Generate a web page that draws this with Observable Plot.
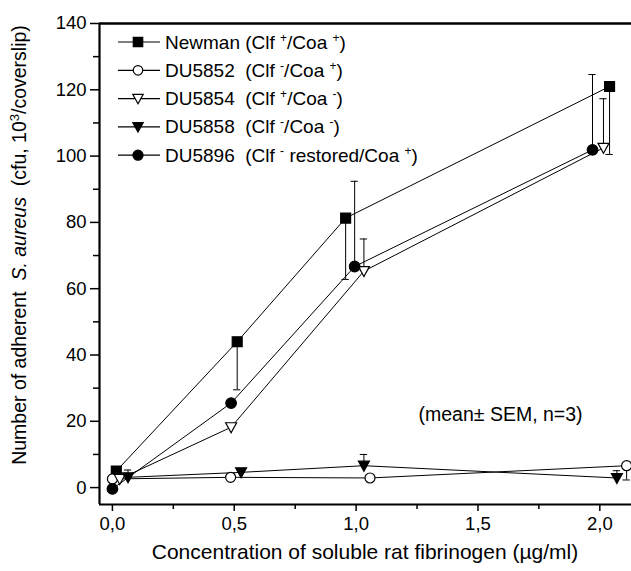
<!DOCTYPE html>
<html>
<head>
<meta charset="utf-8">
<script src="https://cdn.jsdelivr.net/npm/d3@7"></script>
<script src="https://cdn.jsdelivr.net/npm/@observablehq/plot@0.6"></script>
<style>
  html, body { margin: 0; padding: 0; background: #fff; }
  svg text { font-family: "Liberation Sans", Arial, sans-serif; }
</style>
</head>
<body>
<div id="chart"></div>
<script>
// ---- Data ----
const seriesNames = ["Newman", "DU5852", "DU5854", "DU5858", "DU5896"];

const newmanX = [0.016, 0.512, 0.957, 2.04];
const newmanY = [5.0, 44.0, 81.3, 121.0];
const newmanErr = [null, 29.5, 62.8, 100.5];

const du5852X = [0.0, 0.485, 1.057, 2.11];
const du5852Y = [2.6, 3.1, 2.9, 6.6];
const du5852Err = [null, null, null, 2.3];

const du5854X = [0.03, 0.487, 1.032, 2.015];
const du5854Y = [2.6, 18.2, 65.3, 102.5];
const du5854Err = [null, null, 75.0, 117.3];

const du5858X = [0.064, 0.528, 1.032, 2.07];
const du5858Y = [3.1, 4.6, 6.6, 2.9];
const du5858Err = [5.3, null, 10.0, 5.1];

const du5896X = [0.0, 0.487, 0.994, 1.97];
const du5896Y = [-0.4, 25.5, 66.7, 101.9];
const du5896Err = [null, null, 92.4, 124.6];

const xMajorTicks = [0, 0.5, 1.0, 1.5, 2.0];
const xMinorTicks = [0.25, 0.75, 1.25, 1.75];
const yMajorTicks = [0, 20, 40, 60, 80, 100, 120, 140];
const yMinorTicks = [10, 30, 50, 70, 90, 110, 130];

const xDomain = [-0.053, 2.13];
const yDomain = [-5.1, 140];

// ---- Build tables ----
const allX = [newmanX, du5852X, du5854X, du5858X, du5896X];
const allY = [newmanY, du5852Y, du5854Y, du5858Y, du5896Y];
const allErr = [newmanErr, du5852Err, du5854Err, du5858Err, du5896Err];
const rows = [];
seriesNames.forEach((s, i) => {
  allX[i].forEach((x, j) => rows.push({series: s, x, y: allY[i][j], err: allErr[i][j]}));
});
const errRows = rows.filter(d => d.err != null);
const capHalf = 0.015;

const triDown = {
  draw(ctx, size) {
    const r = Math.sqrt(size / Math.PI);
    ctx.moveTo(-r * 1.1, -r * 0.9);
    ctx.lineTo(r * 1.1, -r * 0.9);
    ctx.lineTo(0, r * 1.1);
    ctx.closePath();
  }
};

const styles = {
  Newman: {symbol: "square", fill: "black", r: 5.6},
  DU5852: {symbol: "circle", fill: "white", r: 5},
  DU5854: {symbol: triDown, fill: "white", r: 5},
  DU5858: {symbol: triDown, fill: "black", r: 5},
  DU5896: {symbol: "circle", fill: "black", r: 5.3}
};

const font = '"Liberation Sans", Arial, sans-serif';

const chart = Plot.plot({
  width: 631,
  height: 571,
  marginLeft: 99,
  marginRight: 0,
  marginTop: 23,
  marginBottom: 67,
  style: {fontFamily: font, fontSize: "18px", background: "white", color: "black"},
  x: {domain: xDomain, axis: null},
  y: {domain: yDomain, axis: null},
  marks: [
    // axes
    Plot.axisX(xMajorTicks, {tickSize: 7, tickPadding: 5, tickFormat: d => d3.format(".1f")(d).replace(".", ","), fontSize: 18.5, strokeWidth: 1.5, label: null}),
    Plot.axisX(xMinorTicks, {tickSize: 5, tickFormat: () => "", strokeWidth: 1.5, label: null}),
    Plot.axisY(yMajorTicks, {tickSize: 9, tickPadding: 4, fontSize: 18.5, strokeWidth: 1.5, label: null}),
    Plot.axisY(yMinorTicks, {tickSize: 6, tickFormat: () => "", strokeWidth: 1.5, label: null}),
    Plot.ruleX([xDomain[0]], {strokeWidth: 2.2, stroke: "black"}),
    Plot.ruleY([yDomain[0]], {strokeWidth: 2.2, stroke: "black"}),
    Plot.ruleY([yDomain[1]], {strokeWidth: 2.4, stroke: "black"}),
    // lines
    Plot.line(rows, {x: "x", y: "y", z: "series", stroke: "black", strokeWidth: 1}),
    // error bars
    Plot.ruleX(errRows, {x: "x", y1: "y", y2: "err", stroke: "black", strokeWidth: 1}),
    Plot.ruleY(errRows, {y: "err", x1: d => d.x - capHalf, x2: d => d.x + capHalf, stroke: "black", strokeWidth: 1}),
    // markers
    ...seriesNames.map(s => Plot.dot(rows.filter(d => d.series === s), {
      x: "x", y: "y", symbol: styles[s].symbol, r: styles[s].r,
      fill: styles[s].fill, stroke: "black", strokeWidth: 1.2
    })),
    Plot.text(["(mean\u00B1 SEM, n=3)"], {frameAnchor: "top-left", dx: 319, dy: 384, textAnchor: "start", fontSize: 19.5, lineAnchor: "top"})
  ]
});

document.getElementById("chart").appendChild(chart);

// ---- Titles and legend (layout text) ----
const svg = d3.select(chart);

function richText(sel, segments, supSize, shift) {
  let pending = 0;
  segments.forEach(seg => {
    const t = sel.append("tspan").text(seg.t);
    if (seg.sup) {
      t.attr("dy", pending - shift).attr("font-size", supSize);
      pending = shift;
    } else {
      if (pending) t.attr("dy", pending);
      pending = 0;
      if (seg.italic) t.attr("font-style", "italic");
    }
  });
}

// X title
svg.append("text")
  .attr("x", 365).attr("y", 559)
  .attr("text-anchor", "middle")
  .attr("font-size", 21)
  .attr("fill", "black")
  .text("Concentration of soluble rat fibrinogen (\u00B5g/ml)");

// Y title
const yt = svg.append("text")
  .attr("transform", "translate(26,245) rotate(-90)")
  .attr("text-anchor", "middle")
  .attr("font-size", 19.5)
  .attr("fill", "black")
  .style("white-space", "pre");
richText(yt, [
  {t: "Number of adherent  "}, {t: "S. aureus", italic: true},
  {t: "  (cfu, 10"}, {t: "3", sup: true}, {t: "/coverslip)"}
], 13, 7);

// Legend
const legendItems = [
  {name: "Newman", segs: [{t: "Newman (Clf "}, {t: "+", sup: true}, {t: "/Coa "}, {t: "+", sup: true}, {t: ")"}]},
  {name: "DU5852", segs: [{t: "DU5852  (Clf "}, {t: "-", sup: true}, {t: "/Coa "}, {t: "+", sup: true}, {t: ")"}]},
  {name: "DU5854", segs: [{t: "DU5854  (Clf "}, {t: "+", sup: true}, {t: "/Coa "}, {t: "-", sup: true}, {t: ")"}]},
  {name: "DU5858", segs: [{t: "DU5858  (Clf "}, {t: "-", sup: true}, {t: "/Coa "}, {t: "-", sup: true}, {t: ")"}]},
  {name: "DU5896", segs: [{t: "DU5896  (Clf "}, {t: "-", sup: true}, {t: " restored/Coa "}, {t: "+", sup: true}, {t: ")"}]}
];
const symMap = {square: d3.symbolSquare, circle: d3.symbolCircle};
legendItems.forEach((item, i) => {
  const cy = 42 + i * 28.3;
  const g = svg.append("g");
  g.append("line").attr("x1", 118).attr("x2", 160).attr("y1", cy).attr("y2", cy)
    .attr("stroke", "black").attr("stroke-width", 1.2);
  const st = styles[item.name];
  const type = typeof st.symbol === "string" ? symMap[st.symbol] : st.symbol;
  const rr = st.r * 0.95;
  g.append("path")
    .attr("d", d3.symbol(type, Math.PI * rr * rr)())
    .attr("transform", `translate(138,${cy})`)
    .attr("fill", st.fill).attr("stroke", "black").attr("stroke-width", 1.2);
  const t = g.append("text").attr("x", 165).attr("y", cy + 6.5)
    .attr("text-anchor", "start")
    .attr("font-size", 19).attr("fill", "black").style("white-space", "pre");
  richText(t, item.segs, 12, 7);
});
</script>
</body>
</html>
